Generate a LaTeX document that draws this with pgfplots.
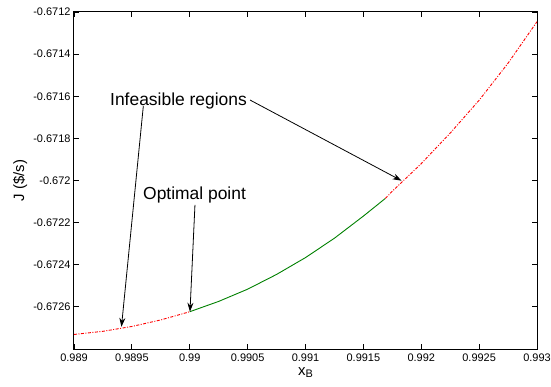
\documentclass[border=0pt]{standalone}
\usepackage{pgfplots}
\pgfplotsset{compat=1.18}
\usepackage{fontspec}
\setmainfont{Liberation Sans}
\usetikzlibrary{arrows.meta}
\definecolor{mgreen}{rgb}{0,0.5,0}
\begin{document}
\begin{tikzpicture}
\begin{axis}[
  name=ax,
  scale only axis, width=463bp, height=337bp,
  xmin=0.989, xmax=0.993, ymin=-0.6728, ymax=-0.6712,
  xtick={0.989,0.9895,0.990,0.9905,0.991,0.9915,0.992,0.9925,0.993},
  xticklabels={0.989,0.9895,0.99,0.9905,0.991,0.9915,0.992,0.9925,0.993},
  ytick={-0.6726,-0.6724,-0.6722,-0.672,-0.6718,-0.6716,-0.6714,-0.6712},
  yticklabels={-0.6726,-0.6724,-0.6722,-0.672,-0.6718,-0.6716,-0.6714,-0.6712},
  tick align=inside,
  xtick pos=both, ytick pos=both,
  major tick length=5bp,
  minor tick num=0,
  axis line style={line width=1bp},
  tick style={line width=0.8bp, black},
  ticklabel style={font=\fontsize{11}{13}\selectfont},
  xticklabel style={inner xsep=0pt, yshift=-1.5bp},
  xlabel={x\raisebox{-0.35ex}{\fontsize{11}{13}\selectfont B}},
  ylabel={J (\$/s)},
  label style={font=\fontsize{15}{17}\selectfont},
  xlabel style={at={(axis description cs:0.5,0)}, anchor=base, yshift=-26bp},
  ylabel style={at={(axis description cs:-0.1166,0.5)}, anchor=center},
  clip=false,
]
\addplot[red, line width=0.9bp, dash pattern=on 3bp off 1.5bp on 1bp off 1.5bp] coordinates {
(0.98900,-0.672731) (0.98925,-0.672716) (0.98950,-0.672693) (0.98975,-0.672662) (0.99000,-0.672623)
};
\addplot[mgreen, line width=0.9bp] coordinates {
(0.99000,-0.672623) (0.99025,-0.672574) (0.99050,-0.672516) (0.99075,-0.672446) (0.99100,-0.672366)
(0.99125,-0.672274) (0.99150,-0.672169) (0.99169,-0.672085)
};
\addplot[red, line width=0.9bp, dash pattern=on 3bp off 1.5bp on 1bp off 1.5bp] coordinates {
(0.99169,-0.672085) (0.99175,-0.672051) (0.99200,-0.671920) (0.99225,-0.671775) (0.99250,-0.671619)
(0.99275,-0.671443) (0.99300,-0.671246)
};
\node[anchor=base west, inner sep=0pt, font=\fontsize{17.5}{20}\selectfont] at (axis cs:0.989311,-0.671646) {Infeasible regions};
\node[anchor=base west, inner sep=0pt, font=\fontsize{17.5}{20}\selectfont] at (axis cs:0.989596,-0.672088) {Optimal point};
\draw[-{Stealth[length=9bp,width=6bp]}, line width=0.8bp] (axis cs:0.989599,-0.671646) -- (axis cs:0.98941,-0.672695);
\draw[-{Stealth[length=9bp,width=6bp]}, line width=0.8bp] (axis cs:0.990521,-0.671618) -- (axis cs:0.991830,-0.672001);
\draw[-{Stealth[length=9bp,width=6bp]}, line width=0.8bp] (axis cs:0.990045,-0.672116) -- (axis cs:0.990002,-0.672623);
\end{axis}
\pgfresetboundingbox
\path[use as bounding box] ([shift={(-74bp,-38bp)}]ax.south west) rectangle ([shift={(14bp,12bp)}]ax.north east);
\end{tikzpicture}
\end{document}
